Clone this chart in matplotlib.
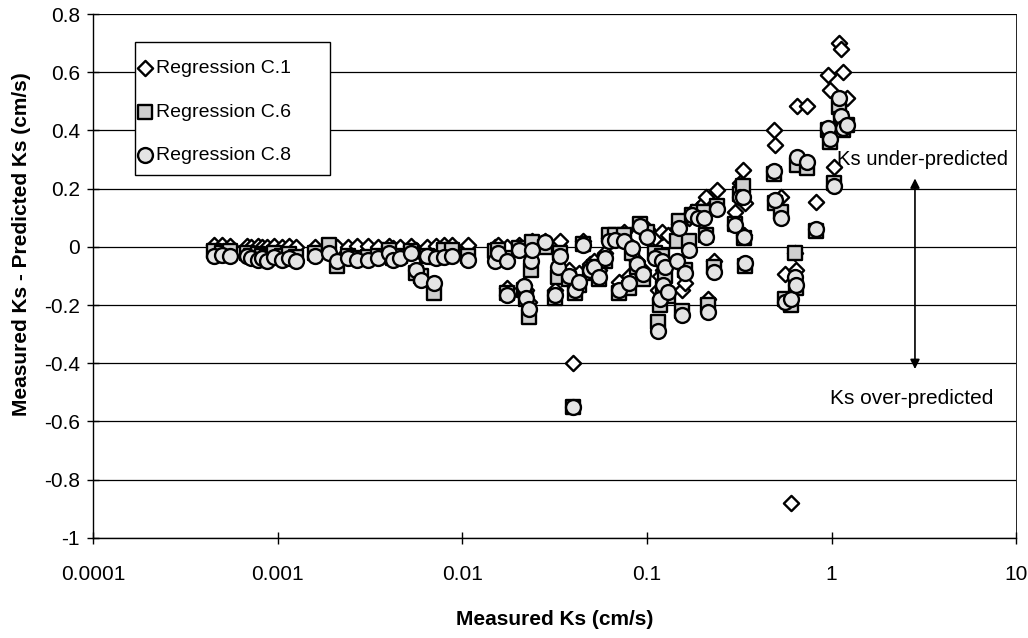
import matplotlib
matplotlib.use("Agg")
import matplotlib.pyplot as plt
from matplotlib.patches import Rectangle

plt.rcParams['font.family'] = ['Liberation Sans', 'DejaVu Sans']

# Measured Ks (cm/s), shared by the three regressions
measured_ks = [
    0.00045, 0.00050, 0.00055, 0.00068, 0.00072, 0.00078, 0.00082, 0.00088, 0.00095, 0.00105,
    0.00115, 0.00125, 0.0016, 0.0019, 0.0021, 0.0024, 0.0027, 0.0031, 0.0035, 0.0040,
    0.0042, 0.0046, 0.0053, 0.0056, 0.0060, 0.0064, 0.0070, 0.0072, 0.0080, 0.0088,
    0.0108, 0.0150, 0.0157, 0.0174, 0.0175, 0.0204, 0.0216, 0.0220, 0.0230, 0.0235,
    0.0240, 0.0280, 0.0317, 0.0330, 0.0340, 0.0380, 0.0400, 0.0410, 0.0430, 0.0450,
    0.0490, 0.0520, 0.0550, 0.0590, 0.0620, 0.0670, 0.0710, 0.0750, 0.0800, 0.0830,
    0.0880, 0.0920, 0.0950, 0.1000, 0.110, 0.115, 0.118, 0.120, 0.122, 0.125,
    0.130, 0.145, 0.150, 0.155, 0.160, 0.170, 0.175, 0.190, 0.205, 0.210,
    0.215, 0.230, 0.240, 0.300, 0.320, 0.330, 0.335, 0.340, 0.49, 0.495,
    0.53, 0.56, 0.60, 0.63, 0.64, 0.65, 0.74, 0.82, 0.96, 0.98,
    1.03, 1.10, 1.12, 1.16, 1.21,
]

# Measured Ks - Predicted Ks (cm/s)
resid_c1 = [
    0.005, 0.005, 0.003, 0.002, 0.000, 0.002, -0.002, 0.000, 0.002, 0.000,
    0.002, -0.002, 0.000, 0.003, -0.002, 0.000, 0.002, 0.004, 0.000, 0.003,
    -0.005, 0.000, 0.003, -0.010, -0.020, 0.000, -0.030, 0.002, 0.005, 0.005,
    0.005, 0.000, 0.005, -0.140, 0.000, 0.005, -0.130, -0.150, -0.190, 0.010,
    0.020, 0.020, -0.150, 0.010, 0.020, -0.080, -0.400, -0.130, -0.090, 0.020,
    -0.060, -0.050, -0.080, -0.020, 0.030, 0.030, -0.120, 0.050, -0.100, 0.000,
    -0.050, 0.070, -0.080, 0.060, 0.030, -0.150, -0.100, 0.050, -0.080, -0.050,
    0.040, 0.060, 0.080, -0.150, -0.125, 0.100, 0.120, 0.130, 0.150, 0.170,
    -0.180, -0.050, 0.195, 0.120, 0.220, 0.265, 0.040, 0.150, 0.400, 0.350,
    0.170, -0.095, -0.880, -0.020, -0.080, 0.485, 0.485, 0.155, 0.590, 0.540,
    0.275, 0.700, 0.680, 0.600, 0.510,
]

resid_c6 = [
    -0.015, -0.020, -0.015, -0.020, -0.030, -0.025, -0.030, -0.035, -0.020, -0.030,
    -0.025, -0.035, -0.020, 0.005, -0.065, -0.030, -0.040, -0.035, -0.030, -0.010,
    -0.040, -0.030, -0.015, -0.090, -0.100, -0.030, -0.160, -0.035, -0.010, -0.010,
    -0.030, -0.015, -0.010, -0.160, -0.040, -0.005, -0.150, -0.180, -0.240, -0.080,
    0.015, 0.000, -0.175, -0.105, -0.020, -0.110, -0.550, -0.160, -0.130, 0.010,
    -0.090, -0.070, -0.110, -0.050, 0.040, 0.040, -0.160, 0.040, -0.140, -0.020,
    -0.070, 0.080, -0.110, 0.050, -0.020, -0.260, -0.200, -0.030, -0.140, -0.100,
    -0.170, 0.020, 0.090, -0.220, -0.080, 0.020, 0.110, 0.120, 0.120, 0.040,
    -0.200, -0.070, 0.140, 0.080, 0.180, 0.210, 0.030, -0.065, 0.250, 0.150,
    0.120, -0.180, -0.200, -0.020, -0.140, 0.280, 0.270, 0.055, 0.400, 0.360,
    0.220, 0.480, 0.440, 0.400, 0.420,
]

resid_c8 = [
    -0.030, -0.027, -0.030, -0.030, -0.040, -0.045, -0.040, -0.050, -0.035, -0.045,
    -0.040, -0.050, -0.030, -0.020, -0.050, -0.040, -0.045, -0.045, -0.040, -0.020,
    -0.045, -0.040, -0.020, -0.080, -0.115, -0.030, -0.125, -0.040, -0.035, -0.030,
    -0.045, -0.050, -0.020, -0.165, -0.050, -0.010, -0.135, -0.175, -0.215, -0.050,
    -0.010, 0.015, -0.165, -0.070, -0.030, -0.100, -0.550, -0.150, -0.120, 0.005,
    -0.080, -0.070, -0.105, -0.040, 0.020, 0.025, -0.150, 0.020, -0.125, -0.005,
    -0.060, 0.070, -0.095, 0.035, -0.040, -0.290, -0.180, -0.050, -0.130, -0.070,
    -0.155, -0.050, 0.065, -0.235, -0.090, -0.010, 0.110, 0.100, 0.100, 0.035,
    -0.225, -0.085, 0.130, 0.075, 0.170, 0.170, 0.035, -0.055, 0.260, 0.160,
    0.100, -0.190, -0.180, -0.105, -0.130, 0.310, 0.290, 0.060, 0.410, 0.370,
    0.210, 0.510, 0.450, 0.410, 0.420,
]

series_labels = ["Regression C.1", "Regression C.6", "Regression C.8"]
x_label = "Measured Ks (cm/s)"
y_label = "Measured Ks - Predicted Ks (cm/s)"
y_ticks = [-1, -0.8, -0.6, -0.4, -0.2, 0, 0.2, 0.4, 0.6, 0.8]
y_tick_labels = ["-1", "-0.8", "-0.6", "-0.4", "-0.2", "0", "0.2", "0.4", "0.6", "0.8"]
x_ticks = [0.0001, 0.001, 0.01, 0.1, 1, 10]
x_tick_labels = ["0.0001", "0.001", "0.01", "0.1", "1", "10"]

fig = plt.figure(figsize=(10.28, 6.38), dpi=100)
ax = fig.add_axes([0.0905, 0.157, 0.898, 0.821])

ax.set_xscale('log')
ax.set_xlim(0.0001, 10)
ax.set_ylim(-1, 0.8)

for yv in y_ticks:
    ax.axhline(yv, color='black', lw=0.9, zorder=1)

ax.scatter(measured_ks, resid_c1, marker='D', s=60, facecolor='white',
           edgecolor='black', linewidths=1.7, zorder=3, label=series_labels[0])
ax.scatter(measured_ks, resid_c6, marker='s', s=105, facecolor='#cfcfcf',
           edgecolor='black', linewidths=1.7, zorder=4, label=series_labels[1])
ax.scatter(measured_ks, resid_c8, marker='o', s=115, facecolor='#e4e4e4',
           edgecolor='black', linewidths=1.7, zorder=5, label=series_labels[2])

ax.set_xticks(x_ticks)
ax.set_xticklabels(x_tick_labels)
ax.minorticks_off()
ax.set_yticks(y_ticks)
ax.set_yticklabels(y_tick_labels)
ax.tick_params(axis='both', direction='inout', length=9, width=1, labelsize=15, colors='black')
ax.tick_params(axis='x', pad=15)
ax.tick_params(axis='y', pad=5)

for sp in ax.spines.values():
    sp.set_color('black')
    sp.set_linewidth(1.0)
ax.spines['right'].set_linewidth(0.6)
ax.spines['top'].set_linewidth(0.6)

ax.set_xlabel(x_label, fontsize=15, fontweight='bold', va='top')
ax.xaxis.set_label_coords(0.5, -0.137)
ax.set_ylabel(y_label, fontsize=15, fontweight='bold', va='center')
ax.yaxis.set_label_coords(-0.077, 0.56)

# legend box drawn as a plain rectangle, entries placed inside
box = Rectangle((0.0455, 0.6927), 0.2113, 0.2539, transform=ax.transAxes,
                facecolor='white', edgecolor='black', lw=1.0, zorder=9)
ax.add_patch(box)
leg = ax.legend(loc='upper left', bbox_to_anchor=(0.0475, 0.9125), borderaxespad=0,
                frameon=False, fontsize=14, labelspacing=1.32, handletextpad=0.15,
                handlelength=0.85, borderpad=0, scatterpoints=1)
leg.set_zorder(10)

ax.text(1.07, 0.30, "Ks under-predicted", fontsize=14.6, ha='left', va='center', zorder=6)
ax.text(0.975, -0.52, "Ks over-predicted", fontsize=15, ha='left', va='center', zorder=6)
ax.annotate("", xy=(2.83, 0.235), xytext=(2.83, -0.42),
            arrowprops=dict(arrowstyle='<|-|>', color='black', lw=1.2,
                            mutation_scale=14, shrinkA=0, shrinkB=0), zorder=6)

fig.savefig("out.png", dpi=100)
